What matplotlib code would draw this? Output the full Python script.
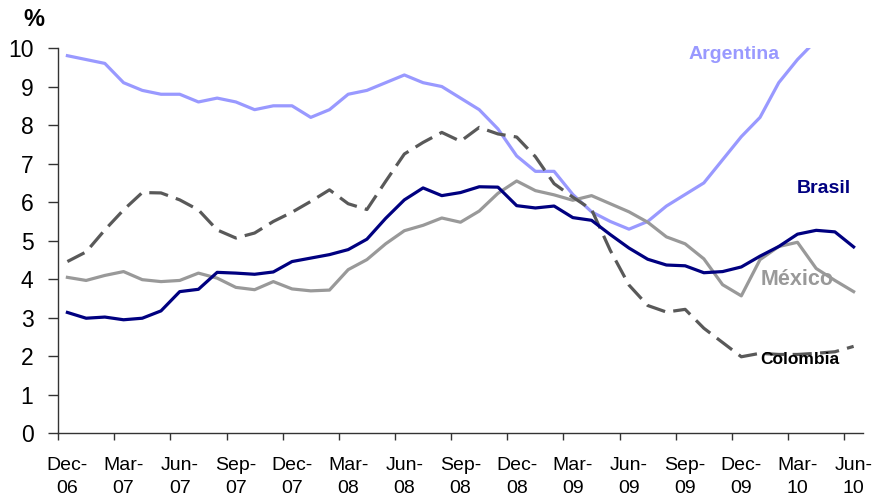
import matplotlib.pyplot as plt
import numpy as np

# monthly inflation, Dec-06 .. Jun-10 (43 months)
months = ["Dec-06", "Jan-07", "Feb-07", "Mar-07", "Apr-07", "May-07", "Jun-07", "Jul-07",
          "Aug-07", "Sep-07", "Oct-07", "Nov-07", "Dec-07", "Jan-08", "Feb-08", "Mar-08",
          "Apr-08", "May-08", "Jun-08", "Jul-08", "Aug-08", "Sep-08", "Oct-08", "Nov-08",
          "Dec-08", "Jan-09", "Feb-09", "Mar-09", "Apr-09", "May-09", "Jun-09", "Jul-09",
          "Aug-09", "Sep-09", "Oct-09", "Nov-09", "Dec-09", "Jan-10", "Feb-10", "Mar-10",
          "Apr-10", "May-10", "Jun-10"]

argentina = [9.8, 9.7, 9.6, 9.1, 8.9, 8.8, 8.8, 8.6, 8.7, 8.6, 8.4, 8.5, 8.5,
             8.2, 8.4, 8.8, 8.9, 9.1, 9.3, 9.1, 9.0, 8.7, 8.4, 7.9, 7.2, 6.8, 6.8, 6.2,
             5.75, 5.5, 5.3, 5.5, 5.9, 6.2, 6.5, 7.1, 7.7, 8.2, 9.1, 9.7, 10.2, np.nan, np.nan]
brasil = [3.14, 2.99, 3.02, 2.95, 2.99, 3.18, 3.68, 3.74, 4.18, 4.16, 4.13, 4.19, 4.46,
          4.55, 4.64, 4.77, 5.04, 5.58, 6.06, 6.37, 6.17, 6.25, 6.40, 6.39, 5.91, 5.85, 5.90, 5.60,
          5.53, 5.16, 4.81, 4.52, 4.37, 4.35, 4.17, 4.20, 4.32, 4.60, 4.85, 5.17, 5.27, 5.23, 4.84]
mexico = [4.05, 3.97, 4.10, 4.20, 3.99, 3.94, 3.97, 4.16, 4.03, 3.79, 3.73, 3.94, 3.75,
          3.70, 3.72, 4.25, 4.51, 4.92, 5.26, 5.40, 5.59, 5.48, 5.77, 6.23, 6.55, 6.30, 6.19, 6.05,
          6.17, 5.96, 5.75, 5.48, 5.10, 4.92, 4.53, 3.86, 3.57, 4.51, 4.85, 4.96, 4.28, 3.97, 3.68]
colombia = [4.46, 4.71, 5.28, 5.80, 6.25, 6.24, 6.06, 5.80, 5.28, 5.07, 5.20, 5.50, 5.74,
            6.02, 6.32, 5.96, 5.81, 6.54, 7.25, 7.55, 7.81, 7.58, 7.94, 7.77, 7.69, 7.18, 6.48, 6.13,
            5.81, 4.75, 3.85, 3.32, 3.15, 3.22, 2.73, 2.36, 1.99, 2.08, 2.05, 2.05, 2.08, 2.12, 2.26]

plt.rcParams["font.family"] = ["Liberation Sans", "DejaVu Sans"]

fig = plt.figure(figsize=(8.74, 5.03), dpi=100)
ax = fig.add_axes([0.0664, 0.1382, 0.921, 0.7664])

x = np.arange(len(months))
ax.plot(x, argentina, color="#9999FF", lw=2.3, solid_joinstyle="round")
ax.plot(x, mexico, color="#999999", lw=2.3, solid_joinstyle="round")
ax.plot(x, colombia, color="#595959", lw=2.3, dashes=(6, 2.6))
ax.plot(x, brasil, color="#000080", lw=2.3, solid_joinstyle="round")

ax.set_xlim(-0.5, len(months) - 0.5)
ax.set_ylim(0, 10)

for s in ["top", "right"]:
    ax.spines[s].set_visible(False)
for s in ["left", "bottom"]:
    ax.spines[s].set_color("#333333")
    ax.spines[s].set_linewidth(1.0)

ax.set_yticks(range(0, 11))
ax.tick_params(axis="y", direction="out", length=7.2, width=1, color="#333333",
               labelsize=16.5, pad=10.5)

# ticks at category boundaries, labels at category centres
ax.set_xticks(np.arange(0, len(months), 3) - 0.5)
ax.set_xticklabels([])
ax.set_xticks(np.arange(0, len(months), 3), minor=True)
ax.set_xticklabels([m.replace("-", "-\n") for m in months[::3]], minor=True,
                   linespacing=1.45)
ax.tick_params(axis="x", which="major", direction="out", length=5, width=1, color="#333333")
ax.tick_params(axis="x", which="minor", length=0, pad=17, labelsize=14)

fig.text(0.039, 0.962, "%", ha="center", va="center", fontsize=17, fontweight="bold")

ax.text(35.6, 9.83, "Argentina", color="#9999FF", fontsize=14, fontweight="bold",
        ha="center", va="center")
ax.text(40.4, 6.35, "Brasil", color="#000080", fontsize=14, fontweight="bold",
        ha="center", va="center")
ax.text(39.0, 4.0, "México", color="#999999", fontsize=15.5, fontweight="bold",
        ha="center", va="center")
ax.text(39.1, 1.93, "Colombia", color="black", fontsize=12.5, fontweight="bold",
        ha="center", va="center")

fig.savefig("out.png", dpi=100)
